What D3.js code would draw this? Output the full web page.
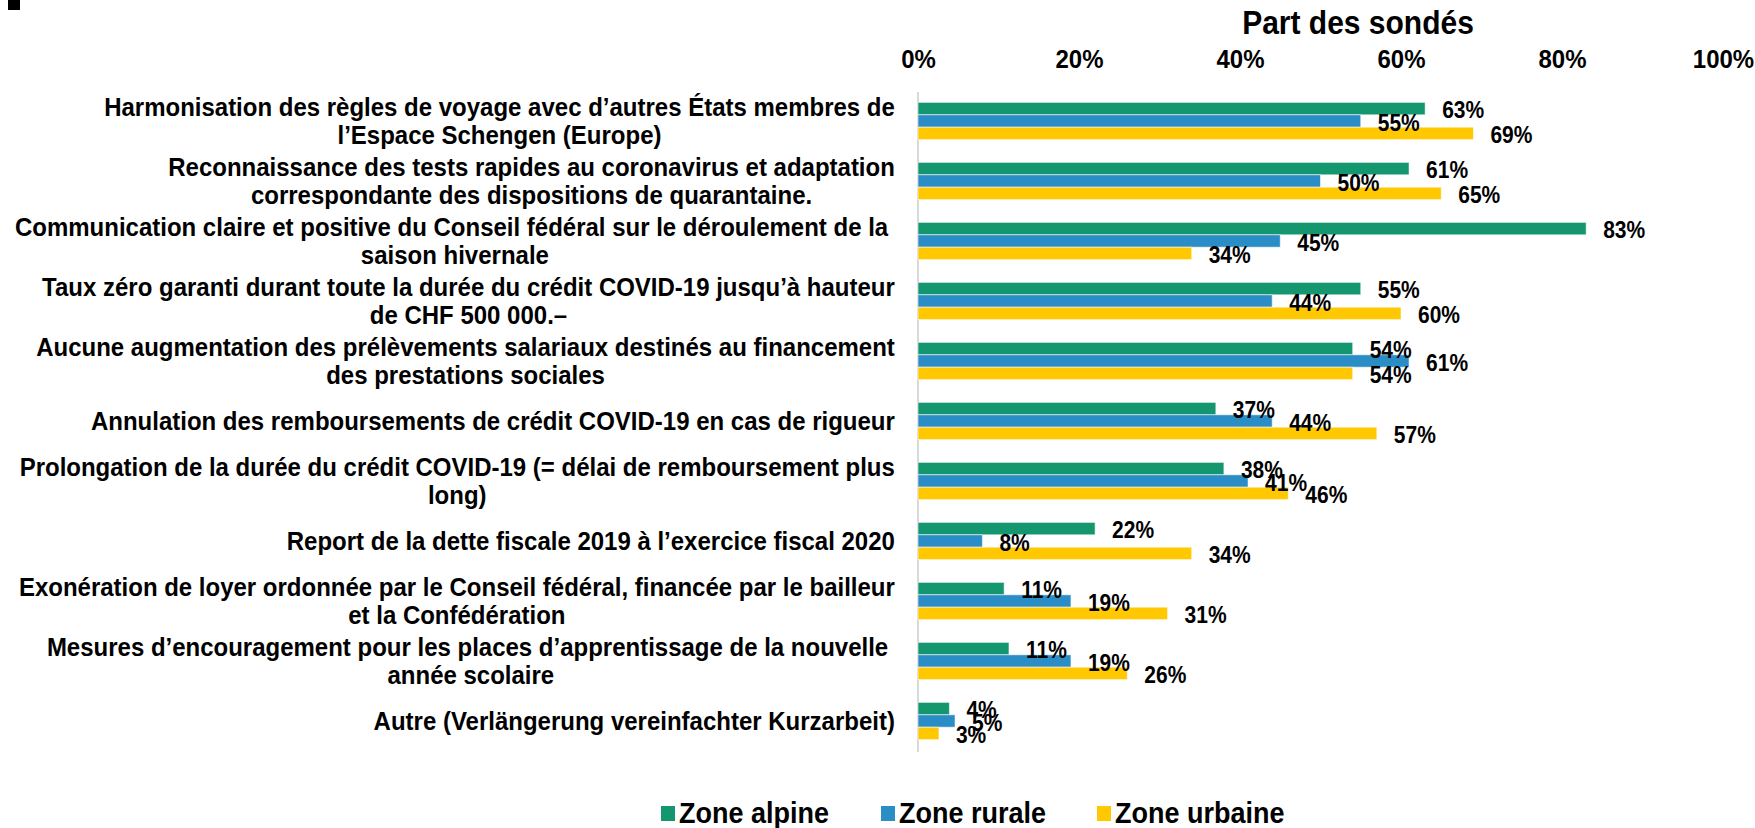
<!DOCTYPE html>
<html>
<head>
<meta charset="utf-8">
<script src="https://cdn.jsdelivr.net/npm/d3@7"></script>
<style>
  body { margin: 0; background: #fff; }
  svg text { font-family: "Liberation Sans", Arial, sans-serif; font-weight: bold; fill: #000; }
</style>
</head>
<body>
<svg id="chart"></svg>
<script>
// Données
const categories = [
    ["Harmonisation des règles de voyage avec d’autres États membres de", "l’Espace Schengen (Europe)"],
    ["Reconnaissance des tests rapides au coronavirus et adaptation", "correspondante des dispositions de quarantaine."],
    ["Communication claire et positive du Conseil fédéral sur le déroulement de la ", "saison hivernale"],
    ["Taux zéro garanti durant toute la durée du crédit COVID-19 jusqu’à hauteur", "de CHF 500 000.–"],
    ["Aucune augmentation des prélèvements salariaux destinés au financement", "des prestations sociales"],
    ["Annulation des remboursements de crédit COVID-19 en cas de rigueur"],
    ["Prolongation de la durée du crédit COVID-19 (= délai de remboursement plus", "long)"],
    ["Report de la dette fiscale 2019 à l’exercice fiscal 2020"],
    ["Exonération de loyer ordonnée par le Conseil fédéral, financée par le bailleur", "et la Confédération"],
    ["Mesures d’encouragement pour les places d’apprentissage de la nouvelle ", "année scolaire"],
    ["Autre (Verlängerung vereinfachter Kurzarbeit)"]
];
const seriesNames = ["Zone alpine", "Zone rurale", "Zone urbaine"];
const alpine  = [63, 61, 83, 55, 54, 37, 38, 22, 10.7, 11.3, 3.9];
const rurale  = [55, 50, 45, 44, 61, 44, 41, 8, 19, 19, 4.6];
const urbaine = [69, 65, 34, 60, 54, 57, 46, 34, 31, 26, 2.6];
const xTicks = [0, 20, 40, 60, 80, 100];
const colors = ["#14966f", "#2a8dc5", "#ffc800"];

const W = 1755, H = 828;
const K = 1.1; // étirement vertical des textes (police un peu haute)
const svg = d3.select("#chart").attr("width", W).attr("height", H);

// étire un texte verticalement autour de sa ligne y
function stretch(sel, pivot) {
    sel.each(function () {
        const Y = pivot !== undefined ? pivot : +d3.select(this).attr("y");
        d3.select(this).attr("transform", `matrix(1,0,0,${K},0,${Y * (1 - K)})`);
    });
}

// Petit carré noir en haut à gauche
svg.append("rect").attr("x", 8).attr("y", 0).attr("width", 12).attr("height", 10).attr("fill", "#000");

// Échelles
const x = d3.scaleLinear().domain([0, 100]).range([918, 1723]);
const y0 = d3.scaleBand().domain(d3.range(categories.length)).range([91, 751])
    .paddingInner(0.38).paddingOuter(0.19);
const y1 = d3.scaleBand().domain(d3.range(seriesNames.length)).range([0, y0.bandwidth()]);

const series = [alpine, rurale, urbaine];

// Titre de l'axe
svg.append("text")
    .attr("x", 1358).attr("y", 22)
    .attr("text-anchor", "middle").attr("dominant-baseline", "central")
    .style("font-size", "30px")
    .text("Part des sondés")
    .call(stretch);

// Axe du haut
const xAxis = d3.axisTop(x).tickValues(xTicks).tickSize(0).tickPadding(0).tickFormat(d => d + "%");
const axG = svg.append("g").attr("transform", "translate(0,59)").call(xAxis);
axG.select(".domain").remove();
axG.selectAll("text")
    .attr("dy", null).attr("y", 0)
    .attr("dominant-baseline", "central")
    .style("font-size", "24px")
    .style("font-family", null)
    .call(stretch);

// Ligne verticale de l'axe
svg.append("line")
    .attr("x1", x(0)).attr("x2", x(0))
    .attr("y1", 92).attr("y2", 752)
    .attr("stroke", "#d9d9d9").attr("stroke-width", 2);

// Barres
const groups = svg.append("g").selectAll("g")
    .data(categories.map((c, i) => i))
    .join("g")
    .attr("transform", i => `translate(0,${y0(i)})`);

groups.selectAll("rect")
    .data(i => series.map((s, k) => ({ k, v: s[i] })))
    .join("rect")
    .attr("x", x(0))
    .attr("y", d => y1(d.k))
    .attr("width", d => x(d.v) - x(0))
    .attr("height", y1.bandwidth())
    .attr("fill", d => colors[d.k])
    .attr("stroke", "rgba(255,255,255,0.55)")
    .attr("stroke-width", 1);

groups.selectAll("text.val")
    .data(i => series.map((s, k) => ({ k, v: s[i] })))
    .join("text")
    .attr("class", "val")
    .attr("x", d => x(d.v) + 17)
    .attr("y", d => y1(d.k) + y1.bandwidth() / 2 + 2)
    .attr("dominant-baseline", "central")
    .style("font-size", "21px")
    .text(d => Math.round(d.v) + "%")
    .call(stretch);

// Libellés des catégories (lignes centrées, bloc aligné à droite)
const labelRight = 895, lineH = 28;
const labG = svg.append("g");
categories.forEach((lines, i) => {
    const cy = y0(i) + y0.bandwidth() / 2;
    const t = labG.append("text")
        .attr("text-anchor", "middle")
        .attr("dominant-baseline", "central")
        .style("font-size", "24px")
        .style("white-space", "pre");
    const spans = lines.map((l, j) => t.append("tspan")
        .attr("y", cy + (j - (lines.length - 1) / 2) * lineH / K)
        .text(l));
    const maxW = d3.max(spans, s => s.node().getComputedTextLength());
    spans.forEach(s => s.attr("x", labelRight - maxW / 2));
    stretch(t, cy);
});

// Légende
const legendX = [661, 881, 1097];
const leg = svg.append("g").selectAll("g")
    .data(seriesNames)
    .join("g")
    .attr("transform", (d, i) => `translate(${legendX[i]},813)`);
leg.append("rect")
    .attr("x", 0).attr("y", -7).attr("width", 14).attr("height", 15)
    .attr("fill", (d, i) => colors[i]);
leg.append("text")
    .attr("x", 18).attr("y", 0)
    .attr("dominant-baseline", "central")
    .style("font-size", "27px")
    .text(d => d)
    .call(stretch);
</script>
</body>
</html>
